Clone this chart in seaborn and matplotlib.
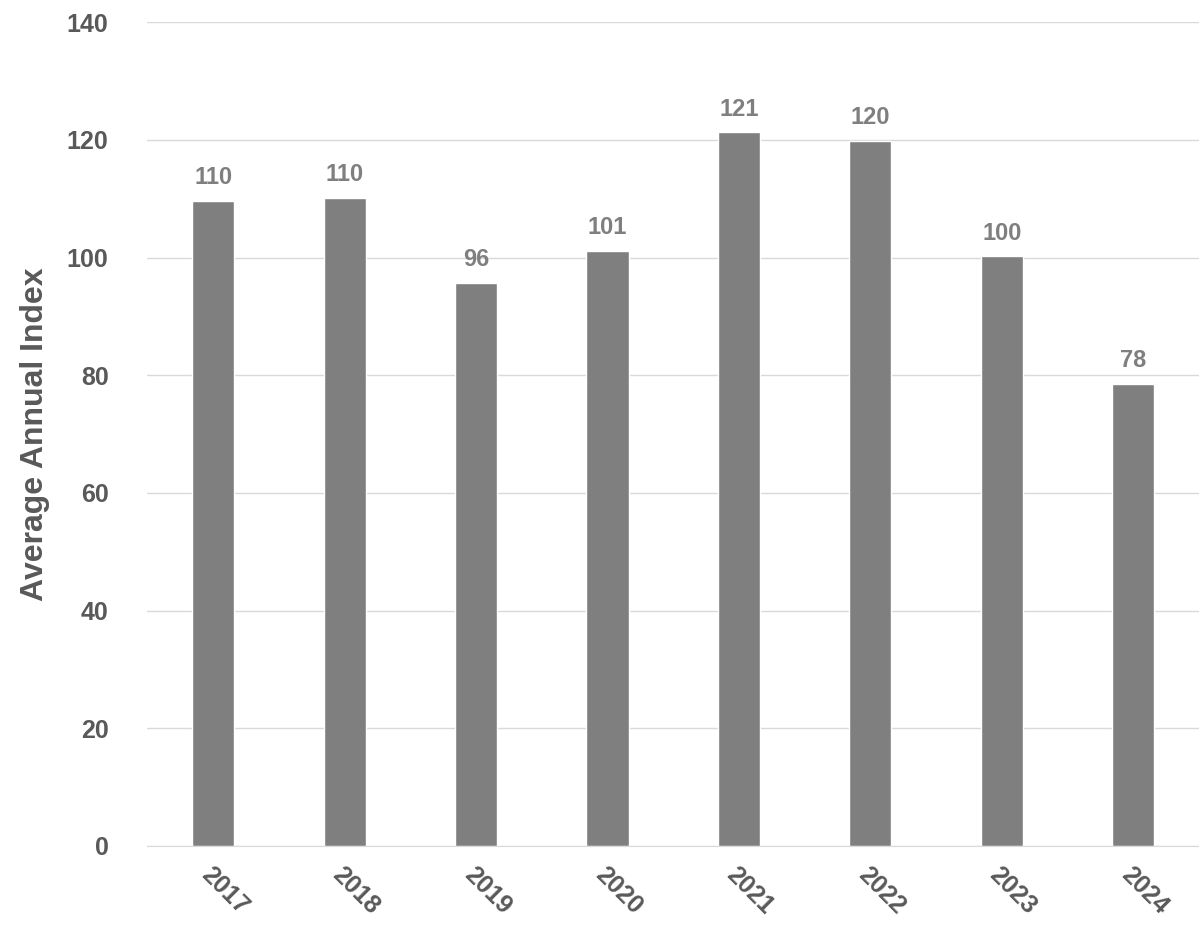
import matplotlib
matplotlib.use('Agg')
import matplotlib.pyplot as plt
import seaborn as sns
import pandas as pd

years = ['2017', '2018', '2019', '2020', '2021', '2022', '2023', '2024']
values = [109.7, 110.1, 95.7, 101.1, 121.3, 119.8, 100.2, 78.5]
labels = ['110', '110', '96', '101', '121', '120', '100', '78']

sns.set_style('white')
plt.rcParams['font.family'] = ['Liberation Sans', 'DejaVu Sans']

df = pd.DataFrame({'year': years, 'value': values})
fig = plt.figure(figsize=(11.99, 9.27), dpi=100)
ax = fig.add_axes([0.123, 0.0874, 0.877, 0.8886])
sns.barplot(data=df, x='year', y='value', color='#7f7f7f', saturation=1, width=0.32, ax=ax)

for i, (v, t) in enumerate(zip(values, labels)):
    ax.text(i, v + 2, t, ha='center', va='bottom', fontsize=17, fontweight='bold', color='#7f7f7f')

ax.set_ylim(0, 140)
ax.set_xlim(-0.5, 7.5)
ax.set_yticks(range(0, 141, 20))
ax.yaxis.grid(True, color='#d9d9d9', linewidth=1)
ax.set_axisbelow(True)
for s in ['top', 'right', 'left']:
    ax.spines[s].set_visible(False)
ax.spines['bottom'].set_color('#d9d9d9')
ax.tick_params(axis='both', length=0, labelsize=18, labelcolor='#595959')
ax.tick_params(axis='y', pad=28)
ax.tick_params(axis='x', pad=12)
for lab in ax.get_xticklabels() + ax.get_yticklabels():
    lab.set_fontweight('bold')
plt.setp(ax.get_xticklabels(), rotation=-45, ha='left', rotation_mode='anchor')
ax.set_xlabel('')
ax.set_ylabel('Average Annual Index', fontsize=23, fontweight='bold', color='#595959', labelpad=12)

fig.savefig('out.png', dpi=100)
